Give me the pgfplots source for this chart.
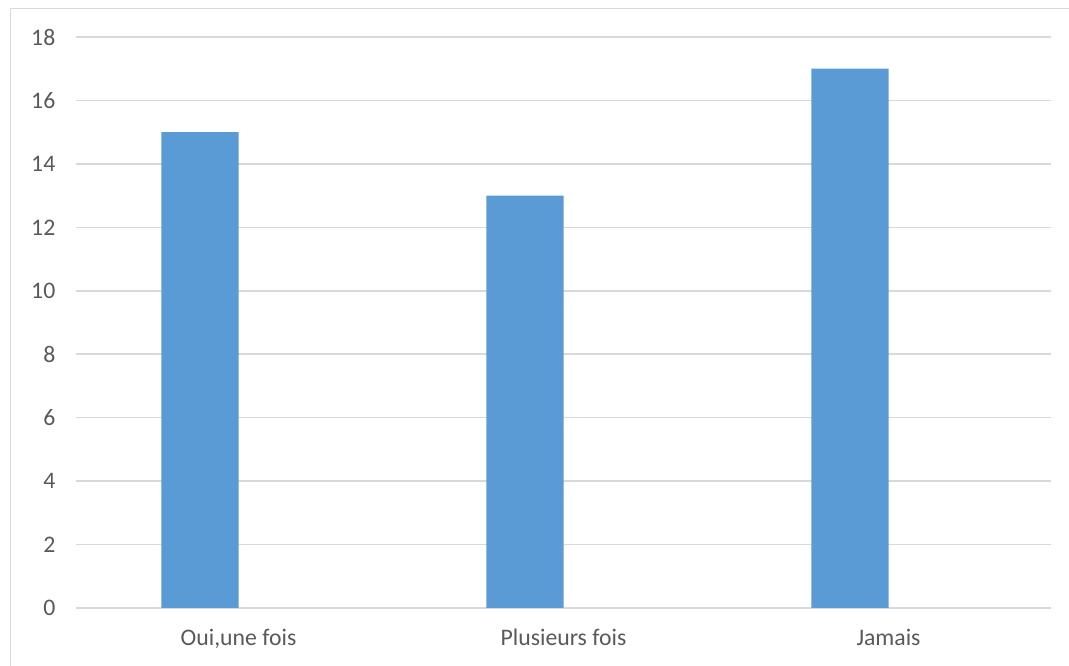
\documentclass[border=0pt]{standalone}
\usepackage{fontspec}
\setmainfont{Carlito}
\usepackage{pgfplots}
\pgfplotsset{compat=1.18}
\definecolor{barblue}{HTML}{5B9BD5}
\definecolor{gridgray}{HTML}{D9D9D9}
\definecolor{textgray}{HTML}{595959}
\begin{document}
\begin{tikzpicture}[x=0.75pt,y=0.75pt]
\path[use as bounding box] (0,0) rectangle (1069,666);
\draw[gridgray,line width=1pt] (10.5,-5) -- (10.5,657.5) -- (1080,657.5);
\begin{axis}[
  at={(57pt,43.5pt)}, anchor=south west,
  scale only axis,
  width=731.25pt, height=428.25pt,
  xmin=-0.5, xmax=2.5, ymin=0, ymax=18,
  axis line style={draw=none},
  ytick={0,2,...,18},
  xtick={0,1,2},
  xticklabels={{Oui,une fois},{Plusieurs fois},{Jamais}},
  ymajorgrids,
  grid style={gridgray,line width=1.1pt},
  major tick length=0pt,
  tick style={draw=none},
  tick label style={font={\fontsize{17.8}{20}\selectfont},text=textgray},
  /pgf/number format/assume math mode=true,
  yticklabel style={xshift=-12pt},
  xticklabel style={yshift=-12pt},
  clip=false,
]
\addplot[ybar, bar width=0.237, bar shift=-0.1185, fill=barblue, draw=none]
  coordinates {(0,15) (1,13) (2,17)};
\end{axis}
\end{tikzpicture}
\end{document}
